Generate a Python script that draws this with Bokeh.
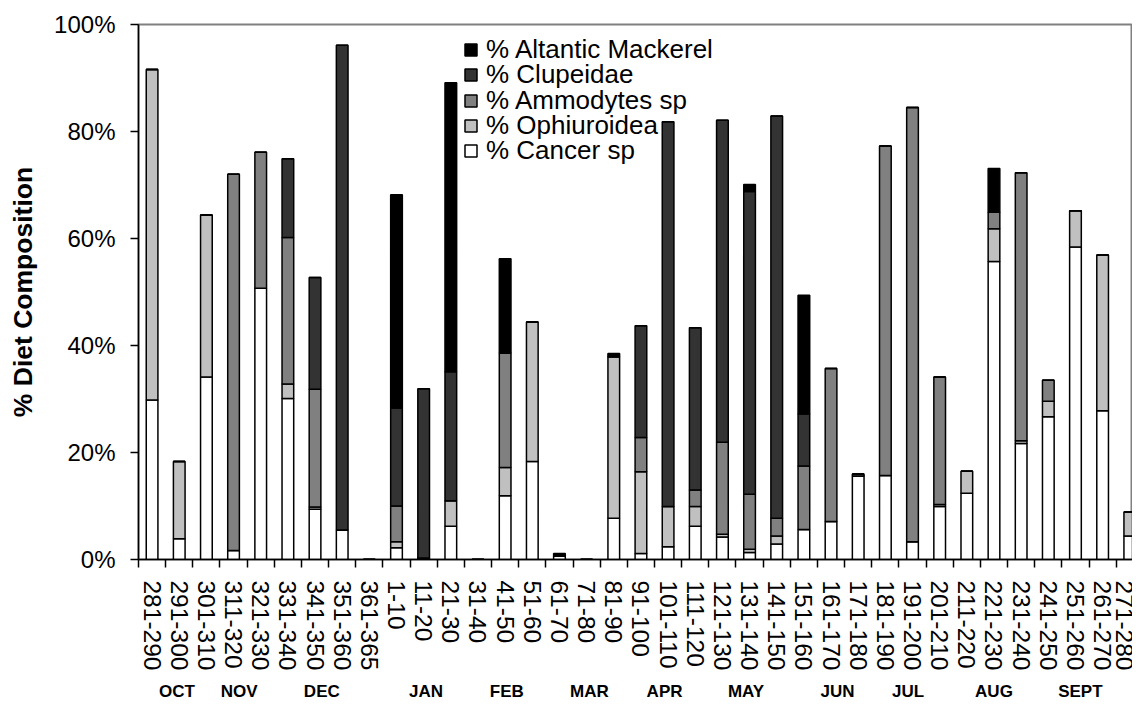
from bokeh.plotting import figure
from bokeh.models import (FixedTicker, LinearAxis, Legend, LegendItem, Range1d,
                          PrintfTickFormatter, ColumnDataSource)
from bokeh.embed import file_html
from bokeh.resources import INLINE

categories = ["281-290", "291-300", "301-310", "311-320", "321-330", "331-340",
              "341-350", "351-360", "361-365", "1-10", "11-20", "21-30", "31-40",
              "41-50", "51-60", "61-70", "71-80", "81-90", "91-100", "101-110",
              "111-120", "121-130", "131-140", "141-150", "151-160", "161-170",
              "171-180", "181-190", "191-200", "201-210", "211-220", "221-230",
              "231-240", "241-250", "251-260", "261-270", "271-280"]

cancer = [29.8, 3.9, 34.1, 1.7, 50.7, 30.1, 9.4, 5.5, 0, 2.2, 0.3, 6.2, 0,
          11.9, 18.3, 0.6, 0, 7.7, 1.1, 2.4, 6.2, 4.2, 1.3, 2.9, 5.6, 7.1,
          15.6, 15.7, 3.3, 9.9, 12.4, 55.7, 21.7, 26.7, 58.4, 27.8, 4.4]
ophiuroidea = [61.8, 14.4, 30.3, 0, 0, 2.7, 0.4, 0, 0, 1.1, 0, 4.8, 0,
               5.3, 26.1, 0, 0, 30.2, 15.3, 7.5, 3.7, 0.5, 0.6, 1.5, 0, 0,
               0, 0, 0, 0.4, 4.1, 6.1, 0.5, 2.9, 6.8, 29.1, 4.5]
ammodytes = [0, 0, 0, 70.3, 25.4, 27.4, 22.0, 0, 0, 6.7, 0, 0, 0,
             21.4, 0, 0, 0, 0, 6.4, 0, 3.1, 17.2, 10.3, 3.3, 11.9, 28.6,
             0.4, 61.6, 81.2, 23.8, 0, 3.1, 50.1, 3.9, 0, 0, 0]
clupeidae = [0, 0, 0, 0, 0, 14.7, 20.9, 90.6, 0, 18.3, 31.6, 24.1, 0,
             0, 0, 0, 0, 0, 20.9, 71.9, 30.3, 60.2, 56.6, 75.2, 9.7, 0,
             0, 0, 0, 0, 0, 0, 0, 0, 0, 0, 0]
mackerel = [0, 0, 0, 0, 0, 0, 0, 0, 0, 39.9, 0, 54.0, 0,
            17.6, 0, 0.5, 0, 0.6, 0, 0, 0, 0, 1.3, 0, 22.2, 0,
            0, 0, 0, 0, 0, 8.2, 0, 0, 0, 0, 0]

series_names = ["% Cancer sp", "% Ophiuroidea", "% Ammodytes sp",
                "% Clupeidae", "% Altantic Mackerel"]
series_colors = ["#FFFFFF", "#C0C0C0", "#808080", "#333333", "#000000"]

month_names = ["OCT", "NOV", "DEC", "JAN", "FEB", "MAR", "APR", "MAY",
               "JUN", "JUL", "AUG", "SEPT"]
month_pos = [0.92, 3.21, 6.25, 10.09, 13.06, 16.1, 18.87, 21.87,
             25.24, 27.84, 31.0, 34.18]

y_ticks = [0, 20, 40, 60, 80, 100]

FONT = "Liberation Sans"

xs = list(range(len(categories)))
source = ColumnDataSource(dict(x=xs, cancer=cancer, oph=ophiuroidea,
                               ammo=ammodytes, clup=clupeidae, mack=mackerel))

p = figure(width=1132, height=703,
           x_range=Range1d(-0.5, 36.1), y_range=Range1d(0, 100),
           output_backend="svg", toolbar_location=None,
           min_border_left=138, min_border_right=0, min_border_top=24,
           min_border_bottom=143)
p.background_fill_color = "white"
p.border_fill_color = "white"
p.outline_line_color = "#808080"
p.outline_line_width = 2
p.xgrid.visible = False
p.ygrid.visible = False

renderers = p.vbar_stack(["cancer", "oph", "ammo", "clup", "mack"], x="x",
                         width=0.43, source=source, fill_color=series_colors,
                         line_color="black", line_width=1.5)

# x axis with category labels
xa = p.xaxis[0]
xa.ticker = FixedTicker(ticks=xs, minor_ticks=[i - 0.5 for i in range(len(xs) + 1)])
xa.major_label_overrides = {i: c for i, c in enumerate(categories)}
xa.major_tick_in = 0
xa.major_tick_out = 0
xa.minor_tick_in = 0
xa.minor_tick_out = 8
xa.minor_tick_line_color = "black"
xa.minor_tick_line_width = 1.5
xa.axis_line_color = "black"
xa.axis_line_width = 1.5
xa.major_label_orientation = "vertical"
xa.major_label_standoff = 13
xa.major_label_text_font = FONT
xa.major_label_text_font_size = "24.5px"
xa.major_label_text_color = "black"

# month axis
ma = LinearAxis(ticker=FixedTicker(ticks=month_pos),
                major_label_overrides=dict(zip(month_pos, month_names)))
ma.axis_line_color = None
ma.major_tick_line_color = None
ma.minor_tick_line_color = None
ma.major_label_standoff = 2
ma.major_label_text_font = FONT
ma.major_label_text_font_size = "17px"
ma.major_label_text_font_style = "bold"
ma.major_label_text_color = "black"
p.add_layout(ma, "below")

# y axis
ya = p.yaxis[0]
ya.ticker = FixedTicker(ticks=y_ticks)
ya.formatter = PrintfTickFormatter(format="%d%%")
ya.major_tick_in = 0
ya.major_tick_out = 8
ya.major_tick_line_width = 1.5
ya.minor_tick_line_color = None
ya.axis_line_width = 1.5
ya.major_label_standoff = 15
ya.major_label_text_font = FONT
ya.major_label_text_font_size = "24px"
ya.major_label_text_color = "black"
ya.axis_label = "% Diet Composition"
ya.axis_label_text_font = FONT
ya.axis_label_text_font_size = "26.5px"
ya.axis_label_text_font_style = "bold"
ya.axis_label_text_color = "black"
ya.axis_label_standoff = 13

# legend: one entry per row, top to bottom (Mackerel first)
legend_rows_y = [494.5, 469, 443.5, 418.5, 393.5]
for row, i in enumerate(range(4, -1, -1)):
    lg = Legend(items=[LegendItem(label=series_names[i], renderers=[renderers[i]])],
                location=(325, legend_rows_y[row]),
                label_text_font=FONT, label_text_font_size="26px",
                label_text_color="black",
                glyph_width=15, glyph_height=15, label_standoff=8,
                padding=0, margin=0, label_height=15,
                border_line_color=None, background_fill_alpha=0)
    p.add_layout(lg)

open("out.html", "w").write(file_html(p, INLINE))
